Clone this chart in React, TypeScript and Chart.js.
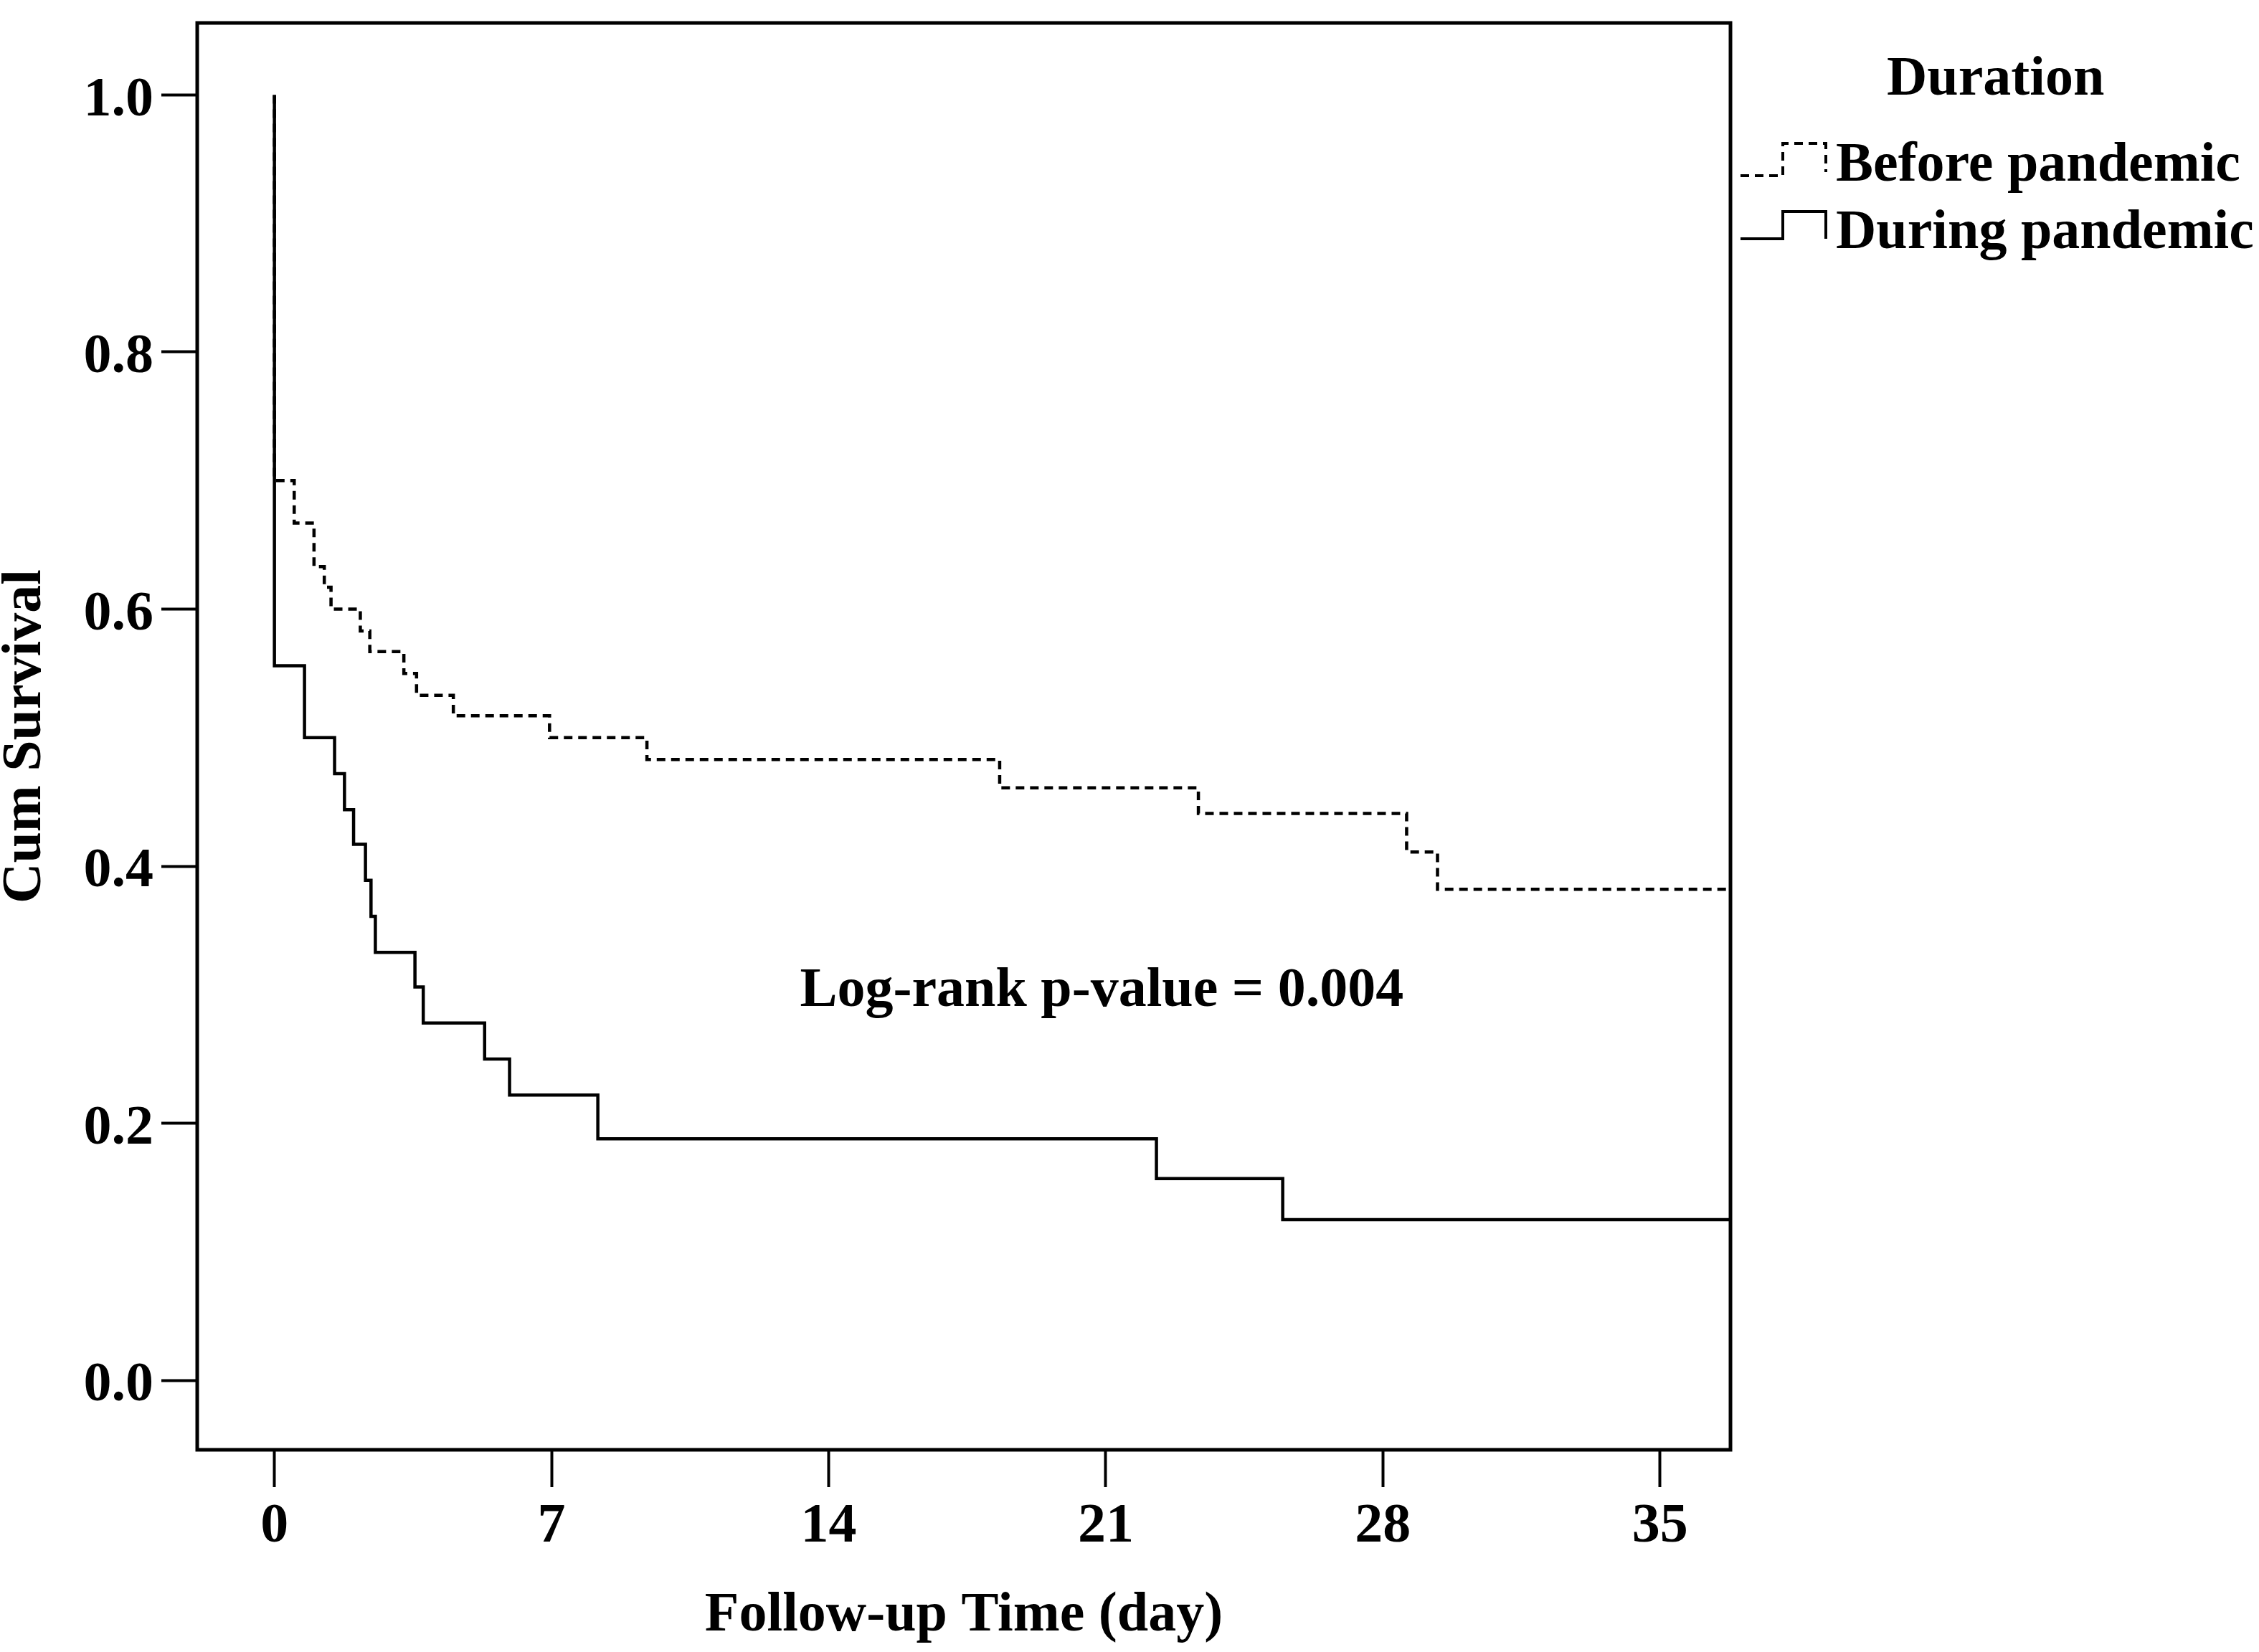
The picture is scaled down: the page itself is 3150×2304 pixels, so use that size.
import { useEffect, useRef } from 'react';
import { Chart, registerables } from 'chart.js';

Chart.register(...registerables);

// Kaplan-Meier steps: day of each drop and cumulative survival after it
const beforeDays = [0, 0, 0.5, 1.0, 1.26, 1.43, 2.17, 2.41, 3.27, 3.59, 4.52, 6.95, 9.41, 18.32, 23.34, 28.6, 29.38, 36.8];
const beforeSurvival = [1.0, 0.7, 0.667, 0.633, 0.617, 0.6, 0.583, 0.567, 0.55, 0.533, 0.517, 0.5, 0.483, 0.461, 0.441, 0.411, 0.382, 0.382];

const duringDays = [0, 0, 0.76, 1.52, 1.77, 2.0, 2.3, 2.44, 2.55, 3.55, 3.76, 5.31, 5.94, 8.17, 22.28, 25.47, 36.8];
const duringSurvival = [1.0, 0.556, 0.5, 0.472, 0.444, 0.417, 0.389, 0.361, 0.333, 0.306, 0.278, 0.25, 0.222, 0.188, 0.157, 0.125, 0.125];

const seriesNames = ['Before pandemic', 'During pandemic'];
const dayTicks = [0, 7, 14, 21, 28, 35];
const survivalTicks = [0, 0.2, 0.4, 0.6, 0.8, 1.0];

const legendTitle = 'Duration';
const pValueNote = 'Log-rank p-value = 0.004';
const xTitle = 'Follow-up Time (day)';
const yTitle = 'Cum Survival';

const FONT = '"Liberation Serif", "Times New Roman", serif';
const DASH = [12, 8];

const toPoints = (days: number[], surv: number[]) =>
  days.map((d, i) => ({ x: d, y: surv[i] }));

const framePlugin = {
  id: 'frame',
  afterDatasetsDraw(chart: any) {
    const { ctx, chartArea: a } = chart;
    ctx.save();
    ctx.strokeStyle = '#000';
    ctx.lineWidth = 5;
    ctx.strokeRect(a.left, a.top, a.right - a.left, a.bottom - a.top);
    ctx.restore();
  },
};

const notePlugin = {
  id: 'pValueNote',
  afterDraw(chart: any) {
    const { ctx, scales } = chart;
    const x = scales.x.getPixelForValue(20.9);
    const y = scales.y.getPixelForValue(0.291);
    ctx.save();
    ctx.fillStyle = '#000';
    ctx.font = `bold 78px ${FONT}`;
    ctx.textAlign = 'center';
    ctx.textBaseline = 'alphabetic';
    ctx.fillText(pValueNote, x, y);
    ctx.restore();
  },
};

const legendPlugin = {
  id: 'kmLegend',
  afterDraw(chart: any) {
    const { ctx, chartArea } = chart;
    const x0 = chartArea.right;
    ctx.save();
    ctx.fillStyle = '#000';
    ctx.font = `bold 78px ${FONT}`;
    ctx.textAlign = 'left';
    ctx.textBaseline = 'alphabetic';
    ctx.fillText(legendTitle, x0 + 218, 132);
    ctx.fillText(seriesNames[0], x0 + 147, 252);
    ctx.fillText(seriesNames[1], x0 + 147, 346);

    const symbol = (low: number, top: number, end: number, dashed: boolean) => {
      ctx.beginPath();
      ctx.setLineDash(dashed ? DASH : []);
      ctx.lineWidth = 4;
      ctx.strokeStyle = '#000';
      ctx.moveTo(x0 + 14, low);
      ctx.lineTo(x0 + 73, low);
      ctx.lineTo(x0 + 73, top);
      ctx.lineTo(x0 + 133, top);
      ctx.lineTo(x0 + 133, end);
      ctx.stroke();
    };
    symbol(245, 200, 240, true);
    symbol(333, 295, 333, false);
    ctx.restore();
  },
};

export default function App() {
  const canvasRef = useRef<HTMLCanvasElement>(null);
  const chartRef = useRef<Chart | null>(null);

  useEffect(() => {
    if (!canvasRef.current) return;
    if (chartRef.current) chartRef.current.destroy();

    const tickFont = { family: FONT, size: 78, weight: 'bold' as const, lineHeight: 1.2 };

    chartRef.current = new Chart(canvasRef.current, {
      type: 'line',
      data: {
        datasets: [
          {
            label: seriesNames[0],
            data: toPoints(beforeDays, beforeSurvival),
            stepped: true,
            borderColor: '#000',
            borderWidth: 4.5,
            borderDash: DASH,
            pointRadius: 0,
            fill: false,
          },
          {
            label: seriesNames[1],
            data: toPoints(duringDays, duringSurvival),
            stepped: true,
            borderColor: '#000',
            borderWidth: 4.5,
            pointRadius: 0,
            fill: false,
          },
        ],
      },
      options: {
        animation: false,
        responsive: true,
        maintainAspectRatio: false,
        layout: { padding: { top: 32, right: 737, left: 0, bottom: 0 } },
        plugins: {
          legend: { display: false },
          tooltip: { enabled: false },
        },
        scales: {
          x: {
            type: 'linear',
            min: -1.95,
            max: 36.78,
            afterBuildTicks: (scale: any) => {
              scale.ticks = dayTicks.map((v) => ({ value: v }));
            },
            afterFit: (scale: any) => {
              scale.height = 282;
              scale.paddingLeft = 0;
              scale.paddingRight = 0;
            },
            grid: {
              drawOnChartArea: false,
              drawTicks: true,
              tickLength: 52,
              tickWidth: 4,
              tickColor: '#000',
            },
            border: { display: false },
            ticks: {
              color: '#000',
              font: tickFont,
              padding: 9,
              autoSkip: false,
              maxRotation: 0,
              callback: (v: any) => String(v),
            },
            title: {
              display: true,
              text: xTitle,
              color: '#000',
              font: { family: FONT, size: 78, weight: 'bold', lineHeight: 1.2 },
              padding: { top: 0, bottom: 3 },
            },
          },
          y: {
            type: 'linear',
            min: -0.054,
            max: 1.056,
            afterBuildTicks: (scale: any) => {
              scale.ticks = survivalTicks.map((v) => ({ value: v }));
            },
            afterFit: (scale: any) => {
              scale.width = 275;
              scale.paddingTop = 0;
              scale.paddingBottom = 0;
            },
            grid: {
              drawOnChartArea: false,
              drawTicks: true,
              tickLength: 50,
              tickWidth: 4,
              tickColor: '#000',
            },
            border: { display: false },
            ticks: {
              color: '#000',
              font: tickFont,
              padding: 11,
              labelOffset: 8,
              callback: (v: any) => Number(v).toFixed(1),
            },
            title: {
              display: true,
              text: yTitle,
              color: '#000',
              font: { family: FONT, size: 78, weight: 'bold', lineHeight: 0.92 },
              padding: { top: 0, bottom: 0 },
            },
          },
        },
      },
      plugins: [framePlugin, notePlugin, legendPlugin],
    });

    return () => {
      if (chartRef.current) {
        chartRef.current.destroy();
        chartRef.current = null;
      }
    };
  }, []);

  return (
    <div style={{ position: 'absolute', left: 0, top: 0, width: 3150, height: 2304, background: '#fff' }}>
      <canvas ref={canvasRef}></canvas>
    </div>
  );
}
